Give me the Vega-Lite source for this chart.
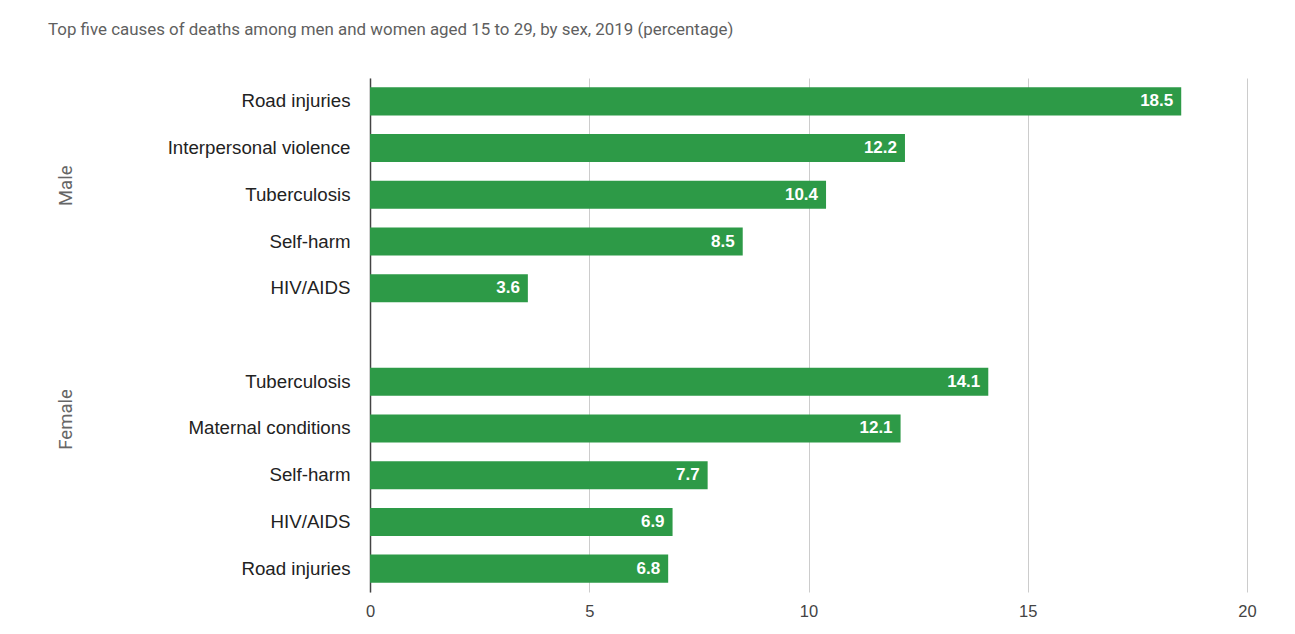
{
  "$schema": "https://vega.github.io/schema/vega-lite/v6.json",
  "autosize": {"type": "none"},
  "padding": {"left": 370, "top": 78, "right": 48, "bottom": 42},
  "width": 877,
  "height": 514,
  "background": "white",
  "title": {
    "text": "Top five causes of deaths among men and women aged 15 to 29, by sex, 2019 (percentage)",
    "anchor": "start",
    "frame": "group",
    "dx": -322,
    "offset": 39,
    "font": "Roboto",
    "fontSize": 16.9,
    "fontWeight": "normal",
    "color": "#5f5f5f"
  },
  "data": {
    "values": [
      {"key": "M|Road injuries", "sex": "Male", "cause": "Road injuries", "value": 18.5},
      {"key": "M|Interpersonal violence", "sex": "Male", "cause": "Interpersonal violence", "value": 12.2},
      {"key": "M|Tuberculosis", "sex": "Male", "cause": "Tuberculosis", "value": 10.4},
      {"key": "M|Self-harm", "sex": "Male", "cause": "Self-harm", "value": 8.5},
      {"key": "M|HIV/AIDS", "sex": "Male", "cause": "HIV/AIDS", "value": 3.6},
      {"key": "F|Tuberculosis", "sex": "Female", "cause": "Tuberculosis", "value": 14.1},
      {"key": "F|Maternal conditions", "sex": "Female", "cause": "Maternal conditions", "value": 12.1},
      {"key": "F|Self-harm", "sex": "Female", "cause": "Self-harm", "value": 7.7},
      {"key": "F|HIV/AIDS", "sex": "Female", "cause": "HIV/AIDS", "value": 6.9},
      {"key": "F|Road injuries", "sex": "Female", "cause": "Road injuries", "value": 6.8}
    ]
  },
  "encoding": {
    "y": {
      "field": "key",
      "type": "nominal",
      "sort": null,
      "scale": {
        "domain": ["M|Road injuries", "M|Interpersonal violence", "M|Tuberculosis", "M|Self-harm", "M|HIV/AIDS", "|", "F|Tuberculosis", "F|Maternal conditions", "F|Self-harm", "F|HIV/AIDS", "F|Road injuries"],
        "paddingInner": 0.4,
        "paddingOuter": 0.2
      }
    },
    "x": {
      "field": "value",
      "type": "quantitative",
      "scale": {"domain": [0, 20], "nice": false},
      "axis": {
        "title": null,
        "values": [0, 5, 10, 15, 20],
        "domain": false,
        "ticks": false,
        "grid": true,
        "gridColor": "#cccccc",
        "gridWidth": 1,
        "labelFlush": false,
        "labelFont": "Liberation Sans",
        "labelFontSize": 16.5,
        "labelColor": "#444444",
        "labelPadding": 11
      }
    }
  },
  "layer": [
    {
      "mark": {"type": "bar", "color": "#2d9a47"},
      "encoding": {
        "y": {
          "field": "key",
          "type": "nominal",
          "sort": null,
          "axis": {
            "title": null,
            "orient": "left",
            "labelExpr": "split(datum.value, '|')[1]",
            "labelLimit": 0,
            "labelFont": "Liberation Sans",
            "labelFontSize": 18.7,
            "labelColor": "#222222",
            "labelPadding": 20,
            "ticks": false,
            "domain": true,
            "domainColor": "#444444",
            "domainWidth": 1.5,
            "grid": false
          }
        }
      }
    },
    {
      "mark": {
        "type": "text",
        "align": "right",
        "baseline": "middle",
        "dx": -8,
        "color": "white",
        "font": "Liberation Sans",
        "fontSize": 17,
        "fontWeight": "bold"
      },
      "encoding": {
        "text": {"field": "value", "type": "quantitative", "format": ".1f"},
        "y": {
          "field": "key",
          "type": "nominal",
          "sort": null,
          "axis": {
            "title": null,
            "orient": "left",
            "labelExpr": "datum.value == 'M|Tuberculosis' ? 'Male' : datum.value == 'F|Maternal conditions' ? 'Female' : ''",
            "labelAngle": -90,
            "labelAlign": "center",
            "labelBaseline": "middle",
            "labelOffset": -9,
            "labelFont": "Roboto",
            "labelFontSize": 18.5,
            "labelColor": "#666666",
            "labelPadding": 305,
            "ticks": false,
            "domain": false,
            "grid": false
          }
        }
      }
    }
  ],
  "resolve": {"axis": {"y": "independent"}},
  "config": {"view": {"stroke": null}}
}
